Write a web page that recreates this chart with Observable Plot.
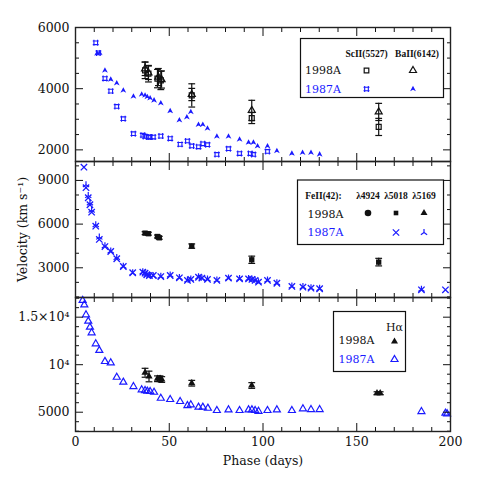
<!DOCTYPE html>
<html><head><meta charset="utf-8">
<script src="https://cdn.jsdelivr.net/npm/d3@7"></script>
<script src="https://cdn.jsdelivr.net/npm/@observablehq/plot@0.6"></script>
<style>
body{margin:0;background:#fff;}
#chart{width:491px;height:491px;background:#fff;}
#chart svg{display:block;overflow:visible;}
</style></head><body><div id="chart"></div>
<script>
// ================= DATA =================
const xMajor = [0, 50, 100, 150, 200];
const xMinor = [10,20,30,40,60,70,80,90,110,120,130,140,160,170,180,190];
const y1Major = [2000, 4000, 6000];
const y1Minor = [2500, 3000, 3500, 4500, 5000, 5500];
const y2Major = [3000, 6000, 9000];
const y2Minor = [1000, 2000, 4000, 5000, 7000, 8000, 10000];
const y3Major = [5000, 10000, 15000];
const y3Labels = ["5000", "10⁴", "1.5×10⁴"];
const y3Minor = [3000,4000,6000,7000,8000,9000,11000,12000,13000,14000,16000,17000];

// Panel 1: ScII(5527) and BaII(6142)  [day, velocity]
const sc87 = [[10.8,5500],[12.2,5170],[15.7,4330],[18.8,3920],[22,3420],[25.5,3020],[30.9,2530],
  [35.9,2480],[37.1,2440],[38.9,2420],[39.8,2420],[41.5,2420],[45.5,2450],[50.5,2370],[55.8,2180],
  [59.7,2290],[62,2130],[65.6,2100],[67.9,2200],[70.4,2170],[75.4,1850],[81.6,2040],[87.5,1880],
  [93.2,1880],[94.9,1850],[102.4,1950]];
const ba87 = [[11.5,5150],[12.9,5170],[15.7,4600],[18.8,4300],[22,4180],[25.5,3945],[30.9,3750],
  [35.3,3810],[37.1,3780],[38.3,3730],[39.8,3690],[41.9,3620],[45.5,3530],[50.5,3270],[55.4,2970],
  [59.4,3070],[61.5,3240],[65.6,2825],[67.9,2825],[70.4,2700],[75.4,2440],[81.6,2440],[87.5,2340],
  [92.3,2240],[94.9,2240],[97.1,2120],[102.4,2120],[107.4,1965],[115.4,1880],[121.1,1910],
  [125.6,1910],[130.2,1855]];
// [day, velocity, error]
const sc98 = [[37.1,4600,270],[38.9,4490,270],[43.7,4330,300],[45.5,4270,300],[62,3780,380],[94,3040,180],[161.7,2750,280]];
const ba98 = [[37.1,4650,220],[38.9,4520,220],[44.2,4380,280],[45.9,4300,280],[62,3810,200],[94,3290,330],[161.7,3240,280]];

// Panel 2: FeII(42)
const fe87_5018 = [[4.5,9910],[5.6,8500],[6.8,7810],[7.7,7330],[8.6,6820],[10.8,5860],[12.7,4950],
  [15.7,4460],[18.8,4120],[22,3620],[25.5,3090],[30.5,2660],[35.9,2700],[37.1,2630],[38,2520],
  [39.4,2470],[41.5,2470],[45.5,2400],[50.5,2470],[55.4,2310],[59.7,2130],[61.5,2200],[65.6,2350],
  [67.4,2290],[70.4,2200],[75.4,2130],[81.6,2290],[87.5,2240],[92.3,2240],[94.1,2200],[95.8,2130],
  [97.6,2010],[102.4,2130],[107.4,1940],[115.4,1720],[121.3,1670],[125.6,1600],[130.2,1560],
  [184.5,1490],[197.3,1490]];
const fe87_5169 = [[5.6,8700],[6.8,7950],[7.7,7450],[8.6,6950],[10.8,5950],[12.7,5100],[15.7,4500],
  [18.8,4150],[22,3700],[25.5,3100],[30.5,2650],[35.9,2720],[37.1,2650],[38,2550],[39.4,2500],
  [41.5,2450],[45.5,2420],[50.5,2500],[55.4,2330],[59.7,2150],[61.5,2220],[65.6,2380],[67.4,2300],
  [70.4,2230],[75.4,2150],[81.6,2300],[87.5,2260],[92.3,2260],[94.1,2220],[95.8,2150],[97.6,2030],
  [102.4,2150],[107.4,1960],[115.4,1740],[121.3,1700],[125.6,1620],[130.2,1580],[184.5,1520]];
const fe98 = [[37.1,5380,100],[38.9,5340,100],[43.7,5150,100],[44.7,5060,100],[62,4490,150],[94,3550,250],[161.7,3390,260]];

// Panel 3: H-alpha
const ha87 = [[3.8,16760],[4.7,16300],[5.6,15250],[6.8,14580],[7.7,13950],[8.6,13360],[10.8,12200],
  [12.7,11500],[15.7,10340],[18.8,10200],[22,8680],[25.5,8160],[30.9,7700],[35.3,7360],[37.1,7280],
  [38.3,7210],[39.8,7180],[41.9,7100],[45.5,6470],[50.5,6340],[55.8,6130],[59.7,5700],[61.5,5780],
  [65.6,5530],[67.9,5530],[70.6,5420],[75.4,5180],[81.6,5250],[87.5,5180],[92.3,5250],[94.1,5250],
  [95.8,5180],[97.6,5100],[102.4,5180],[107.4,5250],[115.4,5180],[121.3,5360],[125.6,5280],
  [130.2,5280],[184.5,5070],[197.3,4900],[198.2,4830]];
const ha98 = [[37.1,9150,470],[39.2,8760,560],[43.7,8520,300],[45.1,8520,300],[46,8440,300],[62,8050,300],[94,7810,300],[160.8,7000,150],[162.5,7000,150]];

// ================= STYLE =================
const BLUE = "#1a1aff";
const FONT = "DejaVu Serif";
const HFONT = "Liberation Serif";
const W = 491, ML = 75, MR = 41;

const symSqHash = {draw(c, size) {
  const r = Math.sqrt(size / Math.PI), s = r * 0.7, e = r * 1.15;
  c.moveTo(-e, -s); c.lineTo(e, -s);
  c.moveTo(-e, s); c.lineTo(e, s);
  c.moveTo(-s, -e); c.lineTo(-s, e);
  c.moveTo(s, -e); c.lineTo(s, e);
}};
const symArrow = {draw(c, size) {
  const r = Math.sqrt(size / Math.PI);
  c.moveTo(0, -r * 1.1); c.lineTo(r, r * 0.8); c.lineTo(0, r * 0.3); c.lineTo(-r, r * 0.8); c.closePath();
}};
const symLambda = {draw(c, size) {
  const r = Math.sqrt(size / Math.PI) * 1.2;
  c.moveTo(0, 0); c.lineTo(0, -r);
  c.moveTo(0, 0); c.lineTo(-r * 0.87, r * 0.6);
  c.moveTo(0, 0); c.lineTo(r * 0.87, r * 0.6);
}};
const symCap = {draw(c, size) {
  const r = Math.sqrt(size / Math.PI);
  c.moveTo(-r, 0); c.lineTo(r, 0);
}};

const X = d => d[0], Y = d => d[1];

function axesFor(yMaj, yMin, yFmt, bottomLabels) {
  const none = {fill: "none", label: null};
  return [
    Plot.axisY(yMaj, {anchor: "left", tickSize: 8, insetLeft: 8, tickPadding: 6, tickFormat: yFmt, label: null, fontSize: 12.5}),
    Plot.axisY(yMin, {anchor: "left", tickSize: 4, insetLeft: 4, ...none}),
    Plot.axisY(yMaj, {anchor: "right", tickSize: 8, insetRight: 8, ...none}),
    Plot.axisY(yMin, {anchor: "right", tickSize: 4, insetRight: 4, ...none}),
    Plot.axisX(xMajor, {anchor: "top", tickSize: 8, insetTop: 8, ...none}),
    Plot.axisX(xMinor, {anchor: "top", tickSize: 4, insetTop: 4, ...none}),
    bottomLabels
      ? Plot.axisX(xMajor, {anchor: "bottom", tickSize: 8, insetBottom: 8, tickPadding: 6, tickFormat: d => String(d), label: null, fontSize: 12.5})
      : Plot.axisX(xMajor, {anchor: "bottom", tickSize: 8, insetBottom: 8, ...none}),
    Plot.axisX(xMinor, {anchor: "bottom", tickSize: 4, insetBottom: 4, ...none}),
    Plot.frame({stroke: "#222", strokeWidth: 1.4})
  ];
}

function errBars(data, color) {
  return [
    Plot.ruleX(data, {x: X, y1: d => d[1] - d[2], y2: d => d[1] + d[2], stroke: color, strokeWidth: 1.2}),
    Plot.dot(data, {x: X, y: d => d[1] - d[2], symbol: symCap, r: 3.4, stroke: color, strokeWidth: 1.2}),
    Plot.dot(data, {x: X, y: d => d[1] + d[2], symbol: symCap, r: 3.4, stroke: color, strokeWidth: 1.2})
  ];
}

function ltext(t, dx, dy, opts = {}) {
  return Plot.text([t], {text: d => d, frameAnchor: "top-left", dx, dy, textAnchor: "middle", lineAnchor: "middle",
    fontFamily: FONT, fontSize: 11, ...opts});
}
function ldot(symbol, dx, dy, opts) {
  return Plot.dot([0], {frameAnchor: "top-left", dx, dy, symbol, ...opts});
}
const HEAD = {fontFamily: HFONT, fontSize: 9.5, fontWeight: "bold"};

const common = {
  width: W, marginLeft: ML, marginRight: MR,
  x: {domain: [0, 200]},
  style: {fontFamily: FONT, fontSize: "12.5px", background: "transparent", color: "#111"}
};

// ---------- Panel 1 ----------
const p1 = Plot.plot({
  ...common, height: 161, marginTop: 27, marginBottom: 0,
  y: {domain: [1620, 6000]},
  marks: [
    ...errBars(sc98, "#111"),
    ...errBars(ba98, "#111"),
    Plot.dot(sc87, {x: X, y: Y, symbol: symSqHash, r: 2.6, stroke: BLUE, strokeWidth: 1.1}),
    Plot.dot(ba87, {x: X, y: Y, symbol: symArrow, r: 2.9, fill: BLUE}),
    Plot.dot(sc98, {x: X, y: Y, symbol: "square", r: 2.8, fill: "none", stroke: "#111", strokeWidth: 1.2}),
    Plot.dot(ba98, {x: X, y: Y, symbol: "triangle", r: 2.6, fill: "none", stroke: "#111", strokeWidth: 1.2}),
    ...axesFor(y1Major, y1Minor, d => String(d), false),
    Plot.frame({insetLeft: 225, insetRight: 7, insetTop: 11, insetBottom: 64, stroke: "#111", strokeWidth: 1.2}),
    ltext("ScII(5527)", 291, 26.5, HEAD),
    ltext("BaII(6142)", 341.5, 26.5, HEAD),
    ltext("1998A", 247.5, 43, {fill: "#111"}),
    ltext("1987A", 247.5, 61.5, {fill: BLUE}),
    ldot("square", 291, 43, {r: 2.6, fill: "none", stroke: "#111", strokeWidth: 1.2}),
    ldot("triangle", 337.5, 43, {r: 2.6, fill: "none", stroke: "#111", strokeWidth: 1.2}),
    ldot(symSqHash, 291, 61.5, {r: 2.6, stroke: BLUE, strokeWidth: 1.1}),
    ldot(symArrow, 337.5, 61.5, {r: 2.9, fill: BLUE})
  ]
});

// ---------- Panel 2 ----------
const p2 = Plot.plot({
  ...common, height: 136, marginTop: 0, marginBottom: 0,
  y: {domain: [960, 10300]},
  marks: [
    ...errBars(fe98, "#111"),
    Plot.dot(fe87_5018, {x: X, y: Y, symbol: "times", r: 3, stroke: BLUE, strokeWidth: 1.3}),
    Plot.dot(fe87_5169, {x: X, y: Y, symbol: symLambda, r: 3, stroke: BLUE, strokeWidth: 1.2}),
    Plot.dot(fe98, {x: X, y: Y, symbol: "square", r: 3, fill: "#111"}),
    ...axesFor(y2Major, y2Minor, d => String(d), false),
    Plot.text(["Velocity (km s⁻¹)"], {text: d => d, frameAnchor: "left", dx: -53, rotate: -90,
      textAnchor: "middle", lineAnchor: "middle", fontFamily: FONT, fontSize: 12.5}),
    Plot.frame({insetLeft: 222, insetRight: 7, insetTop: 18.5, insetBottom: 53, stroke: "#111", strokeWidth: 1.2}),
    ltext("FeII(42):", 248, 34, HEAD),
    ltext("λ4924", 292.5, 34, HEAD),
    ltext("λ5018", 320.5, 34, HEAD),
    ltext("λ5169", 348.5, 34, HEAD),
    ltext("1998A", 250, 52.5, {fill: "#111"}),
    ltext("1987A", 250, 71, {fill: BLUE}),
    ldot("circle", 292.5, 51.5, {r: 3.3, fill: "#111"}),
    ldot("square", 320.5, 51.5, {r: 2.6, fill: "#111"}),
    ldot("triangle", 348.5, 51.5, {r: 2.6, fill: "#111"}),
    ldot("times", 320.5, 71, {r: 3, stroke: BLUE, strokeWidth: 1.2}),
    ldot(symLambda, 348.5, 71, {r: 3, stroke: BLUE, strokeWidth: 1.2})
  ]
});

// ---------- Panel 3 ----------
const p3 = Plot.plot({
  ...common, height: 194, marginTop: 0, marginBottom: 60,
  y: {domain: [2970, 17070]},
  marks: [
    ...errBars(ha98, "#111"),
    Plot.dot(ha87, {x: X, y: Y, symbol: "triangle", r: 2.6, fill: "none", stroke: BLUE, strokeWidth: 1.2}),
    Plot.dot(ha98, {x: X, y: Y, symbol: "triangle", r: 2.7, fill: "#111"}),
    ...axesFor(y3Major, y3Minor, d => y3Labels[y3Major.indexOf(d)], true),
    Plot.text(["Phase (days)"], {text: d => d, frameAnchor: "bottom", dy: 29, lineAnchor: "middle",
      fontFamily: FONT, fontSize: 12.5}),
    Plot.frame({insetLeft: 258, insetRight: 45, insetTop: 14, insetBottom: 60, stroke: "#111", strokeWidth: 1.2}),
    ltext("Hα", 319, 29.5, {fontSize: 11}),
    ltext("1998A", 281, 43, {fill: "#111"}),
    ltext("1987A", 281, 62, {fill: BLUE}),
    ldot("triangle", 319, 44, {r: 2.6, fill: "#111"}),
    ldot("triangle", 319, 62, {r: 2.6, fill: "none", stroke: BLUE, strokeWidth: 1.2})
  ]
});

const el = document.getElementById("chart");
el.append(p1, p2, p3);
</script></body></html>
